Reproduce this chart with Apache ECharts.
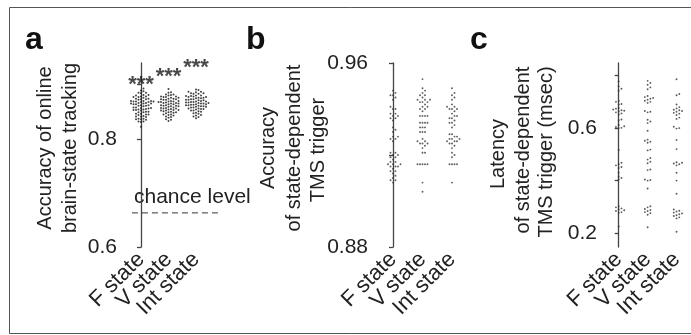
<!DOCTYPE html>
<html>
<head>
<meta charset="utf-8">
<script src="https://cdn.jsdelivr.net/npm/echarts@6/dist/echarts.min.js"></script>
<style>html,body{margin:0;padding:0;background:#fff}#c{width:691px;height:335px}</style>
</head>
<body>
<div id="c"></div>
<script>
// ---------- data ----------
const categories = ['F state', 'V state', 'Int state'];

// panel a: accuracy of online brain-state tracking
const aF = [0.893,0.889,0.888,0.885,0.885,0.884,0.881,0.881,0.880,0.878,0.878,0.877,0.877,0.876,
  0.874,0.874,0.873,0.873,0.872,0.870,0.870,0.870,0.869,0.869,0.869,0.868,0.868,
  0.866,0.866,0.865,0.865,0.865,0.864,0.864,0.862,0.862,0.861,0.861,0.860,
  0.858,0.858,0.857,0.857,0.856,0.855,0.854,0.854,0.853,0.853,0.852,
  0.850,0.850,0.849,0.849,0.846,0.846,0.845,0.845,0.844,0.842,0.841,0.841,0.840,
  0.837,0.837,0.836,0.836,0.835,0.832,0.832,0.831,0.822];
const aV = [0.892,0.886,0.885,0.882,0.882,0.881,0.880,0.878,0.878,0.877,0.877,0.876,0.876,
  0.874,0.874,0.873,0.873,0.872,0.872,0.870,0.870,0.869,0.869,0.868,0.868,0.867,
  0.866,0.866,0.865,0.865,0.864,0.864,0.862,0.862,0.861,0.861,0.860,0.860,0.859,
  0.858,0.857,0.857,0.856,0.856,0.855,0.854,0.853,0.853,0.852,0.852,0.851,
  0.850,0.849,0.849,0.848,0.847,0.845,0.845,0.844,0.843,0.841,0.840,0.839,0.836,0.835,0.833];
const aInt = [0.891,0.890,0.887,0.887,0.886,0.884,0.884,0.883,0.883,0.880,0.880,0.879,0.879,0.878,
  0.877,0.877,0.876,0.876,0.875,0.875,0.873,0.873,0.872,0.872,0.871,0.871,0.870,
  0.869,0.869,0.868,0.868,0.867,0.867,0.866,0.866,0.865,0.865,0.864,0.864,0.863,0.863,0.862,0.862,
  0.861,0.860,0.860,0.859,0.859,0.858,0.858,0.856,0.856,0.855,0.855,0.854,
  0.852,0.852,0.851,0.850,0.848,0.847,0.846,0.844,0.843,0.841,0.840,0.838];
const chanceLevel = 0.663;
const sigMarks = ['***', '***', '***'];
const sigHeights = [0.909, 0.924, 0.940];

// panel b: accuracy of state-dependent TMS trigger
const bF = [0.948,0.947,0.946,0.946,0.945,0.944,0.941,0.940,0.940,
  0.938,0.938,0.937,0.937,0.936,0.936,0.935,0.932,0.931,0.930,
  0.928,0.928,0.927,0.927,0.926,0.921,0.921,0.920,0.920,0.919,0.919,
  0.918,0.917,0.917,0.916,0.916,0.916,0.915,0.915,0.915,
  0.914,0.913,0.913,0.912,0.911,0.910,0.909,0.909,0.908];
const bV = [0.953,0.949,0.948,0.947,0.946,0.946,0.945,0.944,0.944,0.944,0.943,0.943,0.943,0.942,
  0.941,0.941,0.940,0.940,0.939,0.937,0.937,0.937,0.937,0.934,0.934,0.934,0.934,
  0.932,0.932,0.932,0.930,0.930,0.930,0.927,0.926,0.926,0.925,0.925,0.925,0.924,0.923,
  0.921,0.921,0.916,0.916,0.916,0.916,0.916,0.908,0.904];
const bInt = [0.949,0.947,0.946,0.945,0.944,0.942,0.941,0.941,0.940,0.940,0.940,0.939,
  0.938,0.937,0.937,0.936,0.936,0.935,0.934,0.934,0.933,0.932,
  0.929,0.929,0.928,0.928,0.927,0.927,0.927,0.926,0.926,0.926,0.925,0.925,0.924,0.923,
  0.921,0.920,0.919,0.916,0.916,0.916,0.916,0.908];

// panel c: latency of state-dependent TMS trigger (msec)
const cF = [0.778,0.759,0.750,0.742,0.703,0.700,0.692,0.690,0.677,0.674,0.671,0.668,0.666,0.664,
  0.660,0.656,0.652,0.633,0.630,0.612,0.607,0.604,0.601,0.600,0.517,0.468,0.462,0.458,0.452,0.448,
  0.430,0.416,0.410,0.404,0.302,0.298,0.294,0.290,0.287,0.284,0.280,0.277,0.225];
const cV = [0.780,0.772,0.765,0.755,0.748,0.722,0.718,0.715,0.712,0.708,0.704,0.700,0.696,
  0.665,0.662,0.660,0.632,0.625,0.619,0.590,0.556,0.552,0.548,0.544,0.518,0.515,
  0.486,0.480,0.472,0.466,0.442,0.440,0.404,0.402,0.400,0.370,
  0.302,0.298,0.292,0.288,0.284,0.280,0.276,0.270,0.222];
const cInt = [0.786,0.730,0.725,0.690,0.680,0.675,0.670,0.668,0.665,0.662,0.658,0.655,0.650,
  0.640,0.635,0.605,0.600,0.598,0.555,0.520,0.470,0.468,0.465,0.462,0.458,0.430,0.400,0.350,
  0.290,0.285,0.282,0.278,0.275,0.272,0.268,0.265,0.260,0.256,0.205];

const aTicks = [0.6, 0.7, 0.8, 0.9], aLabels = [0.6, 0.8];
const bTicks = [0.88, 0.92, 0.96], bLabels = [0.88, 0.96];
const cTicks = [0.2, 0.4, 0.6, 0.8], cLabels = [0.2, 0.6];

// ---------- layout ----------
const FONT = '"Liberation Sans", Arial, Helvetica, sans-serif';
const TOP = 63, H = 184;
const panels = [
  {axisX: 123, first: 18, step: 27.5, min: 0.6,   max: 0.94,  ticks: aTicks, labels: aLabels, groups: [aF, aV, aInt], d: 2.5, size: 2.0, color: '#111', lm: 6},
  {axisX: 375, first: 18, step: 29.5, min: 0.88,  max: 0.96,  ticks: bTicks, labels: bLabels, groups: [bF, bV, bInt], d: 2.5, size: 1.9, color: '#333', lm: 7},
  {axisX: 603, first: 17, step: 31.5, min: 0.147, max: 0.848, ticks: cTicks, labels: cLabels, groups: [cF, cV, cInt], d: 3.0, size: 1.9, color: '#333', lm: 6}
];

function swarm(values, pxPerY, d) {
  const idx = values.map((v, i) => i).sort((a, b) => values[a] - values[b]);
  const placed = [], off = new Array(values.length);
  for (const i of idx) {
    const y = values[i] * pxPerY;
    for (let k = 0; k < 200; k++) {
      const m = Math.ceil(k / 2);
      const cand = k === 0 ? 0 : (k % 2 === 1 ? m * d : -m * d);
      let ok = true;
      for (const p of placed) {
        const dy = p.y - y;
        if (Math.abs(dy) >= d) continue;
        const dx = p.x - cand;
        if (dx * dx + dy * dy < d * d - 1e-6) { ok = false; break; }
      }
      if (ok) { placed.push({x: cand, y}); off[i] = cand; break; }
    }
  }
  return off;
}

const grid = [], xAxis = [], yAxis = [], series = [];
panels.forEach((p, gi) => {
  const left = p.axisX + p.first - p.step / 2;
  grid.push({left: left, top: TOP, width: p.step * 3, height: H});
  xAxis.push({type: 'category', gridIndex: gi, data: categories, boundaryGap: true,
    axisLine: {show: false}, axisTick: {show: false}, splitLine: {show: false},
    axisLabel: {rotate: 45, interval: 0, fontSize: 22, margin: 9, color: '#222', fontFamily: FONT}});
  xAxis.push({type: 'value', gridIndex: gi, min: -0.5, max: 2.5, show: false});
  yAxis.push({type: 'value', gridIndex: gi, min: p.min, max: p.max, offset: p.first - p.step / 2,
    axisLine: {show: true, lineStyle: {color: '#444', width: 1.3}},
    axisTick: {show: true, length: 4, customValues: p.ticks, lineStyle: {color: '#444', width: 1.3}},
    axisLabel: {customValues: p.labels, fontSize: 21, color: '#222', margin: p.lm, fontFamily: FONT},
    splitLine: {show: false}});
  const pxPerY = H / (p.max - p.min);
  p.groups.forEach((vals, ci) => {
    const off = swarm(vals, pxPerY, p.d);
    series.push({type: 'scatter', xAxisIndex: gi * 2 + 1, yAxisIndex: gi, clip: false, silent: true,
      symbol: 'circle', symbolSize: p.size, itemStyle: {color: p.color},
      data: vals.map((v, i) => [ci + off[i] / p.step, v])});
  });
});

// overlay grid for panel a chance-level line (same y scale, wider x range)
const pa = panels[0];
const overlayW = 100;
grid.push({left: pa.axisX + pa.first - pa.step / 2, top: TOP, width: overlayW, height: H});
xAxis.push({type: 'value', gridIndex: 3, min: -0.5, max: -0.5 + overlayW / pa.step, show: false});
yAxis.push({type: 'value', gridIndex: 3, min: pa.min, max: pa.max, show: false});
series.push({type: 'line', xAxisIndex: 6, yAxisIndex: 3, silent: true, symbol: 'none',
  lineStyle: {color: '#333', width: 1, type: [6, 4]},
  data: [[-0.33, chanceLevel], [2.8, chanceLevel]]});
// significance stars
series.push({type: 'scatter', xAxisIndex: 1, yAxisIndex: 0, clip: false, silent: true, symbolSize: 0,
  label: {show: true, position: 'inside', formatter: p => sigMarks[p.dataIndex], fontSize: 22,
    fontWeight: 'bold', color: '#1a1a1a', fontFamily: FONT, offset: [0, 5]},
  data: sigHeights.map((h, i) => [i, h])});

function vtext(x, y, t) {
  return {type: 'text', x: x, y: y, rotation: Math.PI / 2,
    style: {text: t, font: '20px ' + FONT, fill: '#222', textAlign: 'center', textVerticalAlign: 'middle'}};
}
function letter(x, t) {
  return {type: 'text', x: x, y: 40, style: {text: t, font: 'bold 32px ' + FONT, fill: '#111',
    textAlign: 'left', textVerticalAlign: 'middle'}};
}

const graphic = [
  {type: 'rect', shape: {x: 9.5, y: 7.5, width: 700, height: 326}, style: {fill: 'none', stroke: '#555', lineWidth: 1}},
  letter(25, 'a'), letter(246, 'b'), letter(470, 'c'),
  vtext(45, 148, 'Accuracy of online'), vtext(70, 148, 'brain-state tracking'),
  vtext(268, 148, 'Accuracy'), vtext(294, 148, 'of state-dependent'), vtext(318, 150, 'TMS trigger'),
  vtext(498, 154, 'Latency'), vtext(523, 150, 'of state-dependent'), vtext(546, 152, 'TMS trigger (msec)'),
  {type: 'text', x: 134, y: 197, style: {text: 'chance level', font: '21px ' + FONT, fill: '#222',
    textAlign: 'left', textVerticalAlign: 'middle'}}
];

const chart = echarts.init(document.getElementById('c'), null, {renderer: 'canvas'});
chart.setOption({animation: false, backgroundColor: '#fff', grid, xAxis, yAxis, series, graphic});
</script>
</body>
</html>
